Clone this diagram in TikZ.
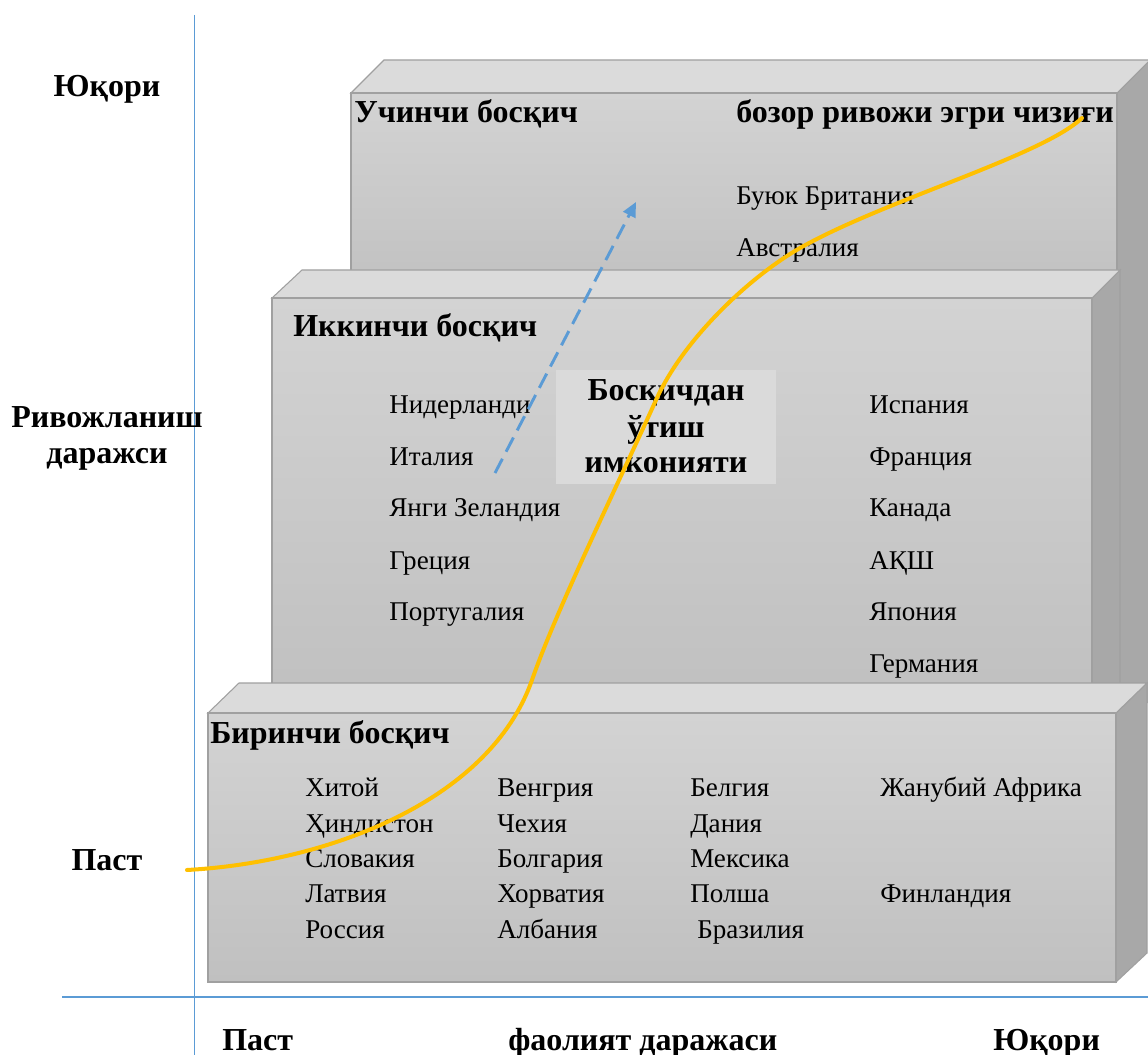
\documentclass[tikz,border=0pt]{standalone}
\usepackage{fontspec}
\setmainfont{Liberation Serif}
\usetikzlibrary{arrows.meta}
\definecolor{axisblue}{HTML}{5B9BD5}
\definecolor{edgegray}{HTML}{A0A0A0}
\definecolor{fronttop}{HTML}{D3D3D3}
\definecolor{frontbot}{HTML}{C0C0C0}
\definecolor{topgray}{HTML}{DBDBDB}
\definecolor{sidegray}{HTML}{A8A8A8}
\definecolor{labelgray}{HTML}{DADADA}
\definecolor{curveorange}{HTML}{FFC000}
\tikzset{
  frontface/.style={draw=edgegray, line width=0.8pt, top color=fronttop, bottom color=frontbot},
  topface/.style={draw=edgegray, line width=0.8pt, fill=topgray},
  sideface/.style={draw=edgegray, line width=0.8pt, fill=sidegray},
  reg/.style={font=\fontsize{20.3}{24}\selectfont, inner sep=0pt, anchor=base west},
  bld/.style={font=\fontsize{24}{28}\selectfont\bfseries, inner sep=0pt, anchor=base west},
  bldc/.style={font=\fontsize{24}{28}\selectfont\bfseries, inner sep=0pt, anchor=base},
  axisline/.style={draw=axisblue},
  scurve/.style={draw=curveorange, line width=3pt, line cap=round},
  passarrow/.style={draw=axisblue, line width=2.2pt, dash pattern=on 12pt off 6pt, -{Triangle[length=11pt,width=10pt]}},
}
\begin{document}
\begin{tikzpicture}[x=0.75pt,y=-0.75pt]
\clip (0,0) rectangle (1148,1055);
\fill[white] (0,0) rectangle (1148,1055);
% axes
\draw[axisline, line width=0.75pt] (194,15) -- (194,1055);
\draw[axisline, line width=1.5pt] (62,997) -- (1148,997);
% box 3
\path[sideface] (1117,93) -- (1150,60) -- (1150,700) -- (1117,730) -- cycle;
\path[topface] (351,93) -- (384,60) -- (1150,60) -- (1117,93) -- cycle;
\path[frontface] (351,93) rectangle (1117,300);
% box 2
\path[sideface] (1092,298) -- (1120,270) -- (1120,700) -- (1092,720) -- cycle;
\path[topface] (272,298) -- (302,270) -- (1120,270) -- (1092,298) -- cycle;
\path[frontface] (272,298) rectangle (1092,700);
% box 1
\path[sideface] (1116,713) -- (1147,683) -- (1147,953) -- (1116,982) -- cycle;
\path[topface] (208,713) -- (239,683) -- (1147,683) -- (1116,713) -- cycle;
\path[frontface] (208,713) rectangle (1116,982);
% box 3 texts
\node[bld] (t3) at (354,123) {Учинчи босқич};
\node[bld] (t3b) at (736,123) {бозор ривожи эгри чизиғи};
\node[reg] (uk) at (736,205) {Буюк Британия};
\node[reg] (au) at (736,257) {Австралия};
% box 2 texts
\node[bld] (t2) at (293,336) {Иккинчи босқич};
\node[reg] (nl) at (389,413) {Нидерланди};
\node[reg] (it) at (389,465) {Италия};
\node[reg] (nz) at (389,516) {Янги Зеландия};
\node[reg] (gr) at (389,569) {Греция};
\node[reg] (pt) at (389,620) {Португалия};
\node[reg] (es) at (869,413) {Испания};
\node[reg] (fr) at (869,465) {Франция};
\node[reg] (ca) at (869,516) {Канада};
\node[reg] (us) at (869,569) {АҚШ};
\node[reg] (jp) at (869,620) {Япония};
\node[reg] (de) at (869,672) {Германия};
% label box
\fill[labelgray] (556,370) rectangle (776,484);
\node[bldc] (l1) at (666,400) {Босқичдан};
\node[bldc] (l2) at (666,437) {ўтиш};
\node[bldc] (l3) at (666,472) {имконияти};
% box 1 texts
\node[bld] (t1) at (210,743) {Биринчи босқич};
\node[reg] (cn) at (305,796) {Хитой};
\node[reg] (in) at (305,832) {Ҳиндистон};
\node[reg] (sk) at (305,867) {Словакия};
\node[reg] (lv) at (305,902) {Латвия};
\node[reg] (ru) at (305,938) {Россия};
\node[reg] (hu) at (497,796) {Венгрия};
\node[reg] (cz) at (497,832) {Чехия};
\node[reg] (bg) at (497,867) {Болгария};
\node[reg] (hr) at (497,902) {Хорватия};
\node[reg] (al) at (497,938) {Албания};
\node[reg] (be) at (690,796) {Белгия};
\node[reg] (dk) at (690,832) {Дания};
\node[reg] (mx) at (690,867) {Мексика};
\node[reg] (pl) at (690,902) {Полша};
\node[reg] (br) at (697,938) {Бразилия};
\node[reg] (za) at (880,796) {Жанубий Африка};
\node[reg] (fi) at (880,902) {Финландия};
% axis labels
\node[bldc] (yhi) at (107,97) {Юқори};
\node[bldc] (yl1) at (107,427) {Ривожланиш};
\node[bldc] (yl2) at (107,463) {даражси};
\node[bldc] (ylo) at (107,870) {Паст};
\node[bld] (xlo) at (222,1050) {Паст};
\node[bld] (xl) at (508,1050) {фаолият даражаси};
\node[bld] (xhi) at (993,1050) {Юқори};
% arrow
\coordinate (as) at (495,473);
\coordinate (ae) at (636,202);
\draw[passarrow] (as) -- (ae);
% curve
\coordinate (c0) at (187,870);
\coordinate (c1) at (532,680);
\coordinate (c2) at (656,400);
\coordinate (c3) at (800,248);
\coordinate (c4) at (1082,118);
\draw[scurve] (c0) .. controls (330,862) and (490,800) .. (c1)
  .. controls (557,608) and (620,480) .. (c2)
  .. controls (683,340) and (748,278) .. (c3)
  .. controls (885,200) and (1042,156) .. (c4);
\end{tikzpicture}
\end{document}
